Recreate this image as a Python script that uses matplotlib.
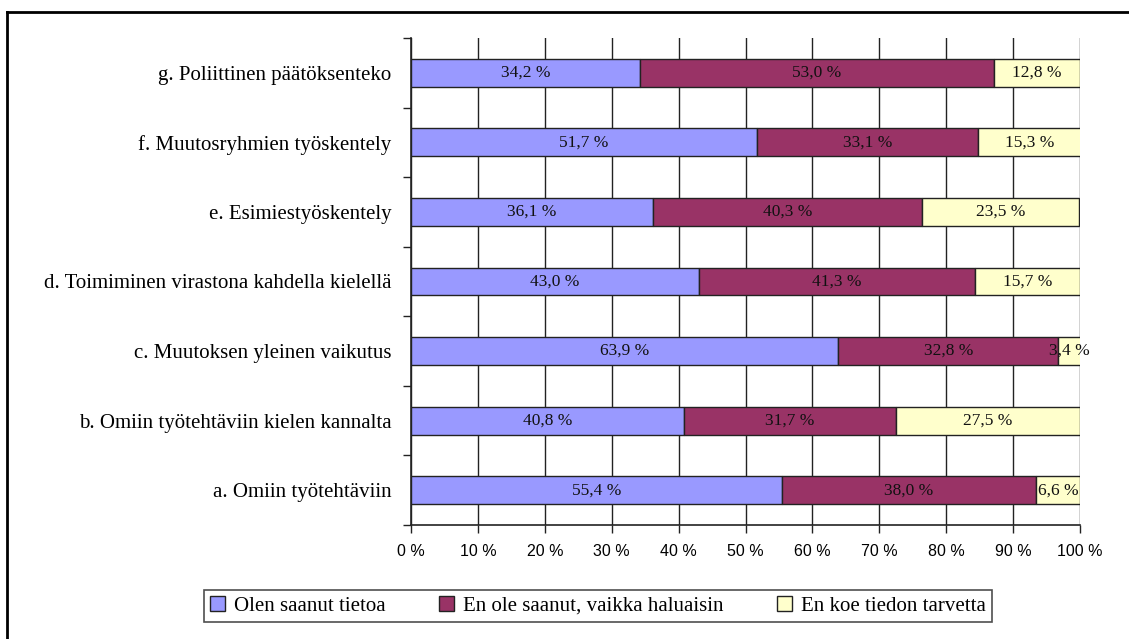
import matplotlib.pyplot as plt
import numpy as np
from matplotlib.lines import Line2D
from matplotlib.ticker import FixedLocator, NullFormatter

# Kysymykset alhaalta ylös (a alimpana)
categories = [
    'a. Omiin työtehtäviin',
    'b. Omiin työtehtäviin kielen kannalta',
    'c. Muutoksen yleinen vaikutus',
    'd. Toimiminen virastona kahdella kielellä',
    'e. Esimiestyöskentely',
    'f. Muutosryhmien työskentely',
    'g. Poliittinen päätöksenteko',
]
saanut = [55.4, 40.8, 63.9, 43.0, 36.1, 51.7, 34.2]
ei_saanut = [38.0, 31.7, 32.8, 41.3, 40.3, 33.1, 53.0]
ei_tarvetta = [6.6, 27.5, 3.4, 15.7, 23.5, 15.3, 12.8]

series_names = ['Olen saanut tietoa', 'En ole saanut, vaikka haluaisin', 'En koe tiedon tarvetta']
colors = ['#9999FF', '#993366', '#FFFFCC']

serif = ['Liberation Serif', 'DejaVu Serif']
sans = ['Liberation Sans', 'DejaVu Sans']

fig = plt.figure(figsize=(11.29, 6.39), dpi=100)
ax = fig.add_axes([411 / 1129, 1 - 525 / 639, 669 / 1129, 487 / 639])

y = np.arange(len(categories))
left = np.zeros(len(categories))
for vals, name, col in zip([saanut, ei_saanut, ei_tarvetta], series_names, colors):
    vals = np.array(vals)
    ax.barh(y, vals, left=left, height=0.4, color=col, edgecolor='#222222',
            linewidth=1.0, label=name, zorder=3)
    for yi, l, v in zip(y, left, vals):
        ax.text(l + v / 2, yi, f'{v:.1f} %'.replace('.', ','), ha='center', va='center',
                fontsize=12.5, family=serif, color='#111111', zorder=4)
    left = left + vals

ax.set_xlim(0, 100)
ax.set_ylim(-0.5, len(categories) - 0.5)
ax.set_xticks(np.arange(0, 101, 10))
ax.set_xticklabels([f'{t} %' for t in range(0, 101, 10)], family=sans, fontsize=11.5)
ax.xaxis.grid(True, color='#222222', linewidth=1.0, zorder=0)
ax.set_axisbelow(True)

# kategorianimet keskelle, tikit kaistojen rajoille
ax.set_yticks(y)
ax.set_yticklabels(categories, family=serif, fontsize=15)
ax.tick_params(axis='y', which='major', length=0, pad=14)
ax.yaxis.set_minor_locator(FixedLocator(np.arange(-0.5, len(categories), 1.0)))
ax.yaxis.set_minor_formatter(NullFormatter())
ax.tick_params(axis='y', which='minor', length=6, width=1, color='#222222')
ax.tick_params(axis='x', length=6, width=1, color='#222222', pad=8)

for s in ['top', 'right']:
    ax.spines[s].set_visible(False)
for s in ['left', 'bottom']:
    ax.spines[s].set_color('#222222')
    ax.spines[s].set_linewidth(1.2)

leg = fig.legend(loc='center', bbox_to_anchor=(598 / 1129, 1 - 606 / 639), ncol=3,
                 prop={'family': serif, 'size': 15}, frameon=True, fancybox=False,
                 handlelength=0.72, handleheight=0.72, handletextpad=0.4,
                 columnspacing=2.6, borderpad=0.3, borderaxespad=0)
leg.get_frame().set_edgecolor('#222222')
leg.get_frame().set_linewidth(1.2)

# kehys ylä- ja vasemmalla reunalla
fig.add_artist(Line2D([7 / 1129, 1.0], [1 - 12 / 639, 1 - 12 / 639], color='black', linewidth=2,
                      transform=fig.transFigure))
fig.add_artist(Line2D([7 / 1129, 7 / 1129], [0.0, 1 - 12 / 639], color='black', linewidth=2,
                      transform=fig.transFigure))

fig.savefig('out.png', dpi=100)
